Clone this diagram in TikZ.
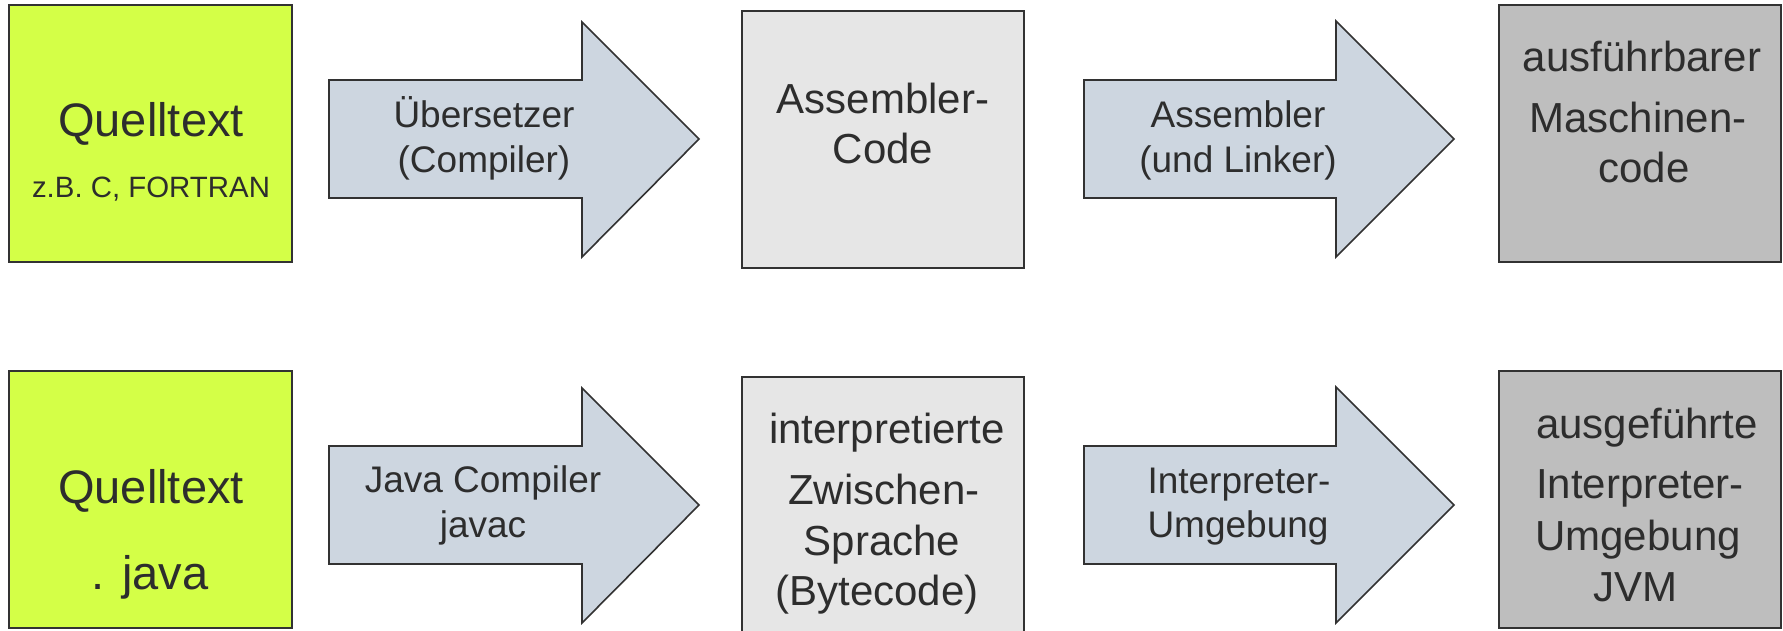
\documentclass[tikz,border=0pt]{standalone}
\usepackage{fontspec}
\setmainfont{Liberation Sans}
\definecolor{srcgreen}{RGB}{212,255,71}
\definecolor{arrowblue}{RGB}{205,214,224}
\definecolor{lightbox}{RGB}{230,230,230}
\definecolor{darkbox}{RGB}{190,190,190}
\definecolor{edge}{RGB}{50,50,50}
\definecolor{ink}{RGB}{45,45,45}
\tikzset{
  box/.style={draw=edge, line width=1.2pt},
  blockarrow/.style={draw=edge, line width=0.8pt, fill=arrowblue, line join=miter},
  txt/.style={anchor=base, inner sep=0pt, text=ink},
  big/.style={txt, font=\fontsize{23.5}{28}\selectfont},
  boxtxt/.style={txt, font=\fontsize{21}{25}\selectfont},
  arrtxt/.style={txt, font=\fontsize{18.5}{22}\selectfont},
  small/.style={txt, font=\fontsize{14.7}{18}\selectfont},
}
\begin{document}
\begin{tikzpicture}[x=0.5pt, y=-0.5pt]
\useasboundingbox (0,0) rectangle (1783,631);
\fill[white] (0,0) rectangle (1783,631);

% ---------- row 1: classic compilation ----------
\filldraw[box, fill=srcgreen] (9,5) rectangle (292,262);
\node[big]   (q1)  at (151,137) {Quelltext};
\node[small] (q1b) at (151,198) {z.B. C, FORTRAN};

\filldraw[blockarrow] (329,80) -- (582,80) -- (582,22) -- (699,139)
  -- (582,257) -- (582,198) -- (329,198) -- cycle;
\node[arrtxt] (c1a) at (484,127) {Übersetzer};
\node[arrtxt] (c1b) at (484,172) {(Compiler)};

\filldraw[box, fill=lightbox] (742,11) rectangle (1024,268);
\node[boxtxt] (a1a) at (883,113) {Assembler-};
\node[boxtxt] (a1b) at (883,163) {Code};

\filldraw[blockarrow] (1084,80) -- (1336,80) -- (1336,21) -- (1454,139)
  -- (1336,257) -- (1336,198) -- (1084,198) -- cycle;
\node[arrtxt] (l1a) at (1238,127) {Assembler};
\node[arrtxt] (l1b) at (1238,172) {(und Linker)};

\filldraw[box, fill=darkbox] (1499,5) rectangle (1781,262);
\node[boxtxt] (m1a) at (1642,72)  {ausführbarer};
\node[boxtxt] (m1b) at (1638,133) {Maschinen-};
\node[boxtxt] (m1c) at (1644,183) {code};

% ---------- row 2: Java ----------
\filldraw[box, fill=srcgreen] (9,371) rectangle (292,628);
\node[big] (q2)  at (151,503) {Quelltext};
\node[big] (q2b) at (150,589) {. java};

\filldraw[blockarrow] (329,446) -- (582,446) -- (582,388) -- (699,505)
  -- (582,623) -- (582,564) -- (329,564) -- cycle;
\node[arrtxt] (c2a) at (483,492) {Java Compiler};
\node[arrtxt] (c2b) at (483,537) {javac};

\filldraw[box, fill=lightbox] (742,377) rectangle (1024,640);
\node[boxtxt] (b2a) at (887,443) {interpretierte};
\node[boxtxt] (b2b) at (884,504) {Zwischen-};
\node[boxtxt] (b2c) at (882,555) {Sprache};
\node[boxtxt] (b2d) at (877,605) {(Bytecode)};

\filldraw[blockarrow] (1084,446) -- (1336,446) -- (1336,387) -- (1454,505)
  -- (1336,623) -- (1336,564) -- (1084,564) -- cycle;
\node[arrtxt] (i2a) at (1239,493) {Interpreter-};
\node[arrtxt] (i2b) at (1238,537) {Umgebung};

\filldraw[box, fill=darkbox] (1499,371) rectangle (1781,628);
\node[boxtxt] (j2a) at (1647,438) {ausgeführte};
\node[boxtxt] (j2b) at (1640,498) {Interpreter-};
\node[boxtxt] (j2c) at (1638,550) {Umgebung};
\node[boxtxt] (j2d) at (1635,601) {JVM};
\end{tikzpicture}
\end{document}
